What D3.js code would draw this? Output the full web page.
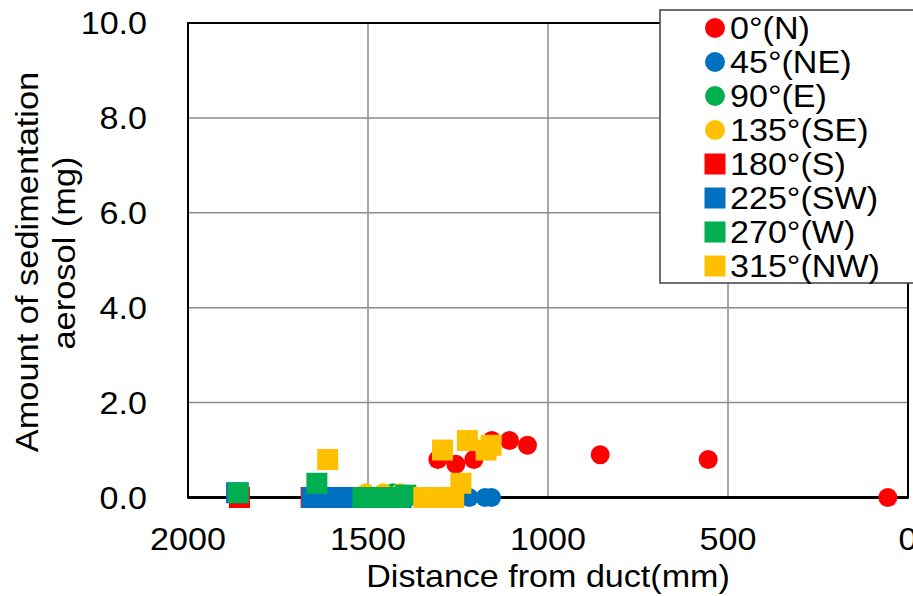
<!DOCTYPE html>
<html>
<head>
<meta charset="utf-8">
<script src="https://cdn.jsdelivr.net/npm/d3@7"></script>
<style>
  html, body { margin: 0; padding: 0; background: #fff; overflow: hidden; }
  svg { display: block; }
  text { font-family: "Liberation Sans", Arial, sans-serif; fill: #000; }
</style>
</head>
<body>
<svg id="chart" width="913" height="596"></svg>
<script>
// ---- data ----
const seriesNames = ["0°(N)", "45°(NE)", "90°(E)", "135°(SE)", "180°(S)", "225°(SW)", "270°(W)", "315°(NW)"];
const seriesColors = ["#FF0000", "#0070C0", "#00B050", "#FFC000", "#FF0000", "#0070C0", "#00B050", "#FFC000"];
const seriesShapes = ["circle", "circle", "circle", "circle", "square", "square", "square", "square"];

const N_dist  = [1306, 1256, 1206, 1156, 1107, 1057, 855, 555, 56];
const N_val   = [0.8, 0.7, 0.8, 1.2, 1.2, 1.1, 0.9, 0.8, 0.0];
const NE_dist = [1219, 1175, 1157];
const NE_val  = [0.0, 0.0, 0.0];
const E_dist  = [1431];
const E_val   = [0.1];
const SE_dist = [1506, 1458, 1411];
const SE_val  = [0.1, 0.1, 0.1];
const S_dist  = [1857, 1658, 1610, 1560, 1510, 1470, 1433];
const S_val   = [0.0, 0.0, 0.0, 0.0, 0.0, 0.0, 0.0];
const SW_dist = [1865, 1656, 1625, 1595, 1569, 1408];
const SW_val  = [0.1, 0.0, 0.0, 0.0, 0.0, 0.0];
const W_dist  = [1860, 1642, 1514, 1480, 1445, 1415, 1395];
const W_val   = [0.1, 0.3, 0.0, 0.0, 0.0, 0.0, 0.05];
const NW_dist = [1612, 1345, 1320, 1290, 1262, 1242, 1293, 1224, 1172, 1158];
const NW_val  = [0.8, 0.0, 0.0, 0.0, 0.0, 0.3, 1.0, 1.2, 1.0, 1.1];

const xTicks = [2000, 1500, 1000, 500, 0];
const yTicks = [0, 2, 4, 6, 8, 10];
const xTitle = "Distance from duct(mm)";
const yTitle = ["Amount of sedimentation", "aerosol (mg)"];

const allDist = [N_dist, NE_dist, E_dist, SE_dist, S_dist, SW_dist, W_dist, NW_dist];
const allVal  = [N_val, NE_val, E_val, SE_val, S_val, SW_val, W_val, NW_val];

// ---- layout ----
const svg = d3.select("#chart");
const x = d3.scaleLinear().domain([2000, 0]).range([188, 908]);
const y = d3.scaleLinear().domain([0, 10]).range([497.5, 23]);
const FS = 32;
const SX = 1.065; // horizontal stretch of glyphs seen in the reference

// gridlines
const grid = svg.append("g");
grid.selectAll("line.h").data(yTicks.filter(t => t > 0 && t < 10)).enter().append("line")
  .attr("x1", x(2000)).attr("x2", x(0)).attr("y1", d => y(d)).attr("y2", d => y(d))
  .attr("stroke", "#8c8c8c").attr("stroke-width", 1.5);
grid.selectAll("line.v").data(xTicks.filter(t => t > 0 && t < 2000)).enter().append("line")
  .attr("x1", d => x(d)).attr("x2", d => x(d)).attr("y1", y(0)).attr("y2", y(10))
  .attr("stroke", "#8c8c8c").attr("stroke-width", 1.5);

// frame
svg.append("rect").attr("x", x(2000)).attr("y", y(10))
  .attr("width", x(0) - x(2000)).attr("height", y(0) - y(10))
  .attr("fill", "none").attr("stroke", "#000").attr("stroke-width", 2);
svg.append("line").attr("x1", x(2000)).attr("x2", x(0)).attr("y1", y(0)).attr("y2", y(0))
  .attr("stroke", "#000").attr("stroke-width", 2.8);

// tick labels
svg.append("g").selectAll("text").data(yTicks).enter().append("text")
  .attr("transform", d => `translate(147,${y(d) + 11}) scale(${SX},1)`)
  .attr("text-anchor", "end").attr("font-size", FS)
  .text(d => d.toFixed(1));
svg.append("g").selectAll("text").data(xTicks).enter().append("text")
  .attr("transform", d => `translate(${x(d)},550) scale(${SX},1)`)
  .attr("text-anchor", "middle").attr("font-size", FS)
  .text(d => d);

// axis titles
svg.append("text").attr("transform", `translate(${(x(2000) + x(0)) / 2},587) scale(${SX},1)`)
  .attr("text-anchor", "middle").attr("font-size", FS).text(xTitle);
svg.append("text").attr("transform", `translate(38,262) rotate(-90) scale(1.075,1)`)
  .attr("text-anchor", "middle").attr("font-size", FS).text(yTitle[0]);
svg.append("text").attr("transform", `translate(75,253) rotate(-90) scale(1.075,1)`)
  .attr("text-anchor", "middle").attr("font-size", FS).text(yTitle[1]);

// markers
const R = 9.5, S = 21;
const marks = svg.append("g");
allDist.forEach((dists, i) => {
  const pts = dists.map((d, j) => ({ d: d, v: allVal[i][j] }));
  const g = marks.append("g");
  if (seriesShapes[i] === "circle") {
    g.selectAll("circle").data(pts).enter().append("circle")
      .attr("cx", p => x(p.d)).attr("cy", p => y(p.v)).attr("r", R)
      .attr("fill", seriesColors[i]);
  } else {
    g.selectAll("rect").data(pts).enter().append("rect")
      .attr("x", p => x(p.d) - S / 2).attr("y", p => y(p.v) - S / 2)
      .attr("width", S).attr("height", S)
      .attr("fill", seriesColors[i]);
  }
});

// legend
const lg = svg.append("g");
lg.append("rect").attr("x", 660).attr("y", 10).attr("width", 270).attr("height", 273)
  .attr("fill", "#fff").attr("stroke", "#404040").attr("stroke-width", 1.5);
seriesNames.forEach((name, i) => {
  const yc = 28 + i * 34;
  if (seriesShapes[i] === "circle") {
    lg.append("circle").attr("cx", 715).attr("cy", yc).attr("r", 10).attr("fill", seriesColors[i]);
  } else {
    lg.append("rect").attr("x", 715 - 10.5).attr("y", yc - 10.5).attr("width", 21).attr("height", 21)
      .attr("fill", seriesColors[i]);
  }
  lg.append("text").attr("transform", `translate(730,${yc + 11}) scale(${SX},1)`)
    .attr("font-size", FS).text(name);
});
</script>
</body>
</html>
